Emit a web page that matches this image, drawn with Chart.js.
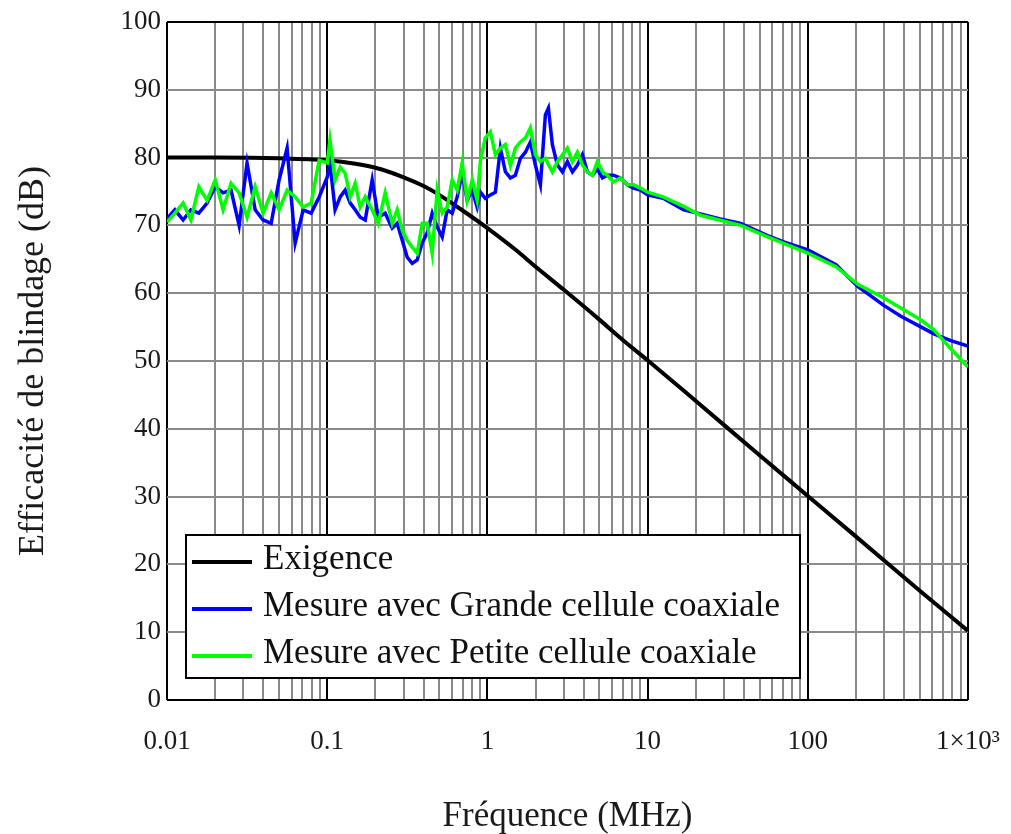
<!DOCTYPE html>
<html><head><meta charset="utf-8">
<script src="https://cdn.jsdelivr.net/npm/chart.js@4.4.1/dist/chart.umd.min.js"></script>
<style>html,body{margin:0;padding:0;background:#fff;}#wrap{position:relative;width:1011px;height:834px;}</style>
</head><body><div id="wrap"><canvas id="c" width="1011" height="834"></canvas></div>
<script>
// ---- data ----
const seriesNames = ['Exigence', 'Mesure avec Grande cellule coaxiale', 'Mesure avec Petite cellule coaxiale'];
const seriesColors = ['#000000', '#0000ff', '#00ff00'];

const exigenceFreq = [0.01,0.02,0.05,0.1,0.15,0.2,0.3,0.4,0.5,0.7,1,1.5,2,3,5,7,10,20,50,100,200,500,1000];
const exigenceDb   = [80,80,79.9,79.6,79.1,78.5,77.1,75.8,74.5,72.2,69.6,66.4,63.9,60.5,56.1,53.1,50.1,44.1,36.1,30.1,24.1,16.1,10.2];

const measFreq = [0.0100,0.0112,0.0126,0.0141,0.0158,0.0178,0.0200,0.0224,0.0251,0.0282,0.0316,0.0355,0.0398,0.0447,0.0501,0.0562,0.0631,0.0708,0.0794,0.0891,0.1000,0.1041,
  0.112,0.1206,0.1295,0.1392,0.1495,0.1607,0.1727,0.1909,0.2082,0.2301,0.2545,0.2735,0.2939,0.3158,0.3393,0.3646,0.3917,0.4209,0.4523,0.486,0.5223,0.5611,0.6029,0.648,0.696,0.748,0.804,0.863,
  0.905,0.97,1.044,1.122,1.205,1.295,1.392,1.495,1.607,1.727,1.855,1.993,2.142,2.301,2.403,2.545,2.735,2.939,3.158,3.393,3.646,3.917,4.209,4.523,4.86,5.223,5.611,6.116,6.76,7.48,8.15,9.02,10,
  12.5,16.8,21.4,28,38.1,56.1,70,100,150,205,298,381,511,612,781,1000];

const grandeDb = [71.0,72.3,70.8,72.3,71.8,73.3,75.7,74.8,75.2,70.0,79.2,72.3,70.8,70.3,76.7,81.4,67.4,72.3,71.8,74.2,77.1,79.2,
  72.3,74.2,75.2,73.3,72.3,71.2,70.8,76.7,71.2,71.8,69.6,70.3,67.8,65.3,64.4,64.9,67.4,68.9,71.8,69.8,68.3,72.3,71.8,74.2,77.7,73.7,75.2,72.7,
  74.9,74.0,74.5,74.9,81.4,77.9,77.0,77.4,79.9,80.8,82.3,78.9,76.0,86.3,87.3,81.9,78.9,77.9,79.4,77.9,78.9,80.4,77.9,77.4,78.3,77.0,77.4,77.4,77.0,76.0,75.5,75.2,74.5,
  74.0,72.3,71.7,71.0,70.3,68.5,67.6,66.4,64.2,61.0,58.2,56.6,55.0,54.0,53.0,52.2];

const petiteDb = [70.5,71.8,73.3,70.8,75.7,73.7,76.7,72.3,76.2,74.8,71.2,75.7,71.8,74.8,72.3,75.2,74.2,72.7,73.3,79.6,79.2,82.6,
  76.7,78.6,77.7,74.2,76.2,72.7,74.2,72.3,70.3,74.8,70.3,72.3,69.3,67.8,66.8,65.9,70.3,70.3,65.9,75.2,71.8,72.7,76.7,75.2,79.2,73.7,76.7,73.7,
  79.6,82.9,83.8,80.4,81.4,81.9,78.8,81.4,82.3,82.9,84.4,80.4,79.4,79.9,79.0,77.9,79.4,80.4,81.4,79.4,80.8,78.9,77.9,77.4,79.4,77.9,77.4,76.4,77.0,76.0,76.0,75.5,74.9,
  74.2,72.8,71.5,70.8,70.0,68.3,67.4,65.9,63.9,61.3,59.3,57.8,56.0,54.6,51.8,49.1];

const xDecades = [0.01, 0.1, 1, 10, 100, 1000];
const xTickLabels = ['0.01', '0.1', '1', '10', '100', '1\u00d710\u00b3'];
const yTickValues = [0,10,20,30,40,50,60,70,80,90,100];
const xTitle = 'Fréquence (MHz)';
const yTitle = 'Efficacité de blindage (dB)';

// ---- helpers ----
const pts = (xs, ys) => xs.map((x, i) => ({x: x, y: ys[i]}));
const isDecade = v => Math.abs(Math.log10(v) - Math.round(Math.log10(v))) < 1e-6;
const SERIF = "'Liberation Serif','Times New Roman',serif";

const legendPlugin = {
  id: 'boxLegend',
  afterDatasetsDraw(chart) {
    const ctx = chart.ctx, a = chart.chartArea;
    const L = a.left + 19, T = a.top + 513, W = 614, H = 143;
    ctx.save();
    ctx.fillStyle = '#fff';
    ctx.fillRect(L, T, W, H);
    ctx.strokeStyle = '#000'; ctx.lineWidth = 2;
    ctx.strokeRect(L, T, W, H);
    const rows = [T + 25, T + 72, T + 119];
    ctx.font = '35px ' + SERIF;
    ctx.textBaseline = 'middle';
    ctx.fillStyle = '#111';
    seriesNames.forEach((n, i) => {
      ctx.strokeStyle = seriesColors[i]; ctx.lineWidth = 4;
      ctx.beginPath(); ctx.moveTo(L + 6, rows[i] + 2); ctx.lineTo(L + 66, rows[i] + 2); ctx.stroke();
      ctx.fillText(n, L + 77, rows[i]);
    });
    ctx.restore();
  }
};

new Chart(document.getElementById('c'), {
  type: 'scatter',
  data: {
    datasets: [
      {label: seriesNames[2], data: pts(measFreq, petiteDb), borderColor: seriesColors[2], borderWidth: 3.5, showLine: true, pointRadius: 0, order: 1},
      {label: seriesNames[1], data: pts(measFreq, grandeDb), borderColor: seriesColors[1], borderWidth: 3.5, showLine: true, pointRadius: 0, order: 2},
      {label: seriesNames[0], data: pts(exigenceFreq, exigenceDb), borderColor: seriesColors[0], borderWidth: 4, showLine: true, pointRadius: 0, cubicInterpolationMode: 'monotone', order: 3}
    ]
  },
  options: {
    responsive: false,
    animation: false,
    layout: {padding: {left: 0, right: 43, top: 22, bottom: 0}},
    plugins: {legend: {display: false}, tooltip: {enabled: false}},
    scales: {
      x: {
        type: 'logarithmic', min: 0.01, max: 1000,
        afterBuildTicks: s => {
          const t = [];
          xDecades.slice(0, -1).forEach(d => { for (let k = 1; k <= 9; k++) t.push({value: +(d * k).toPrecision(6)}); });
          t.push({value: 1000});
          s.ticks = t;
        },
        afterFit: s => { s.height = 134; s.paddingLeft = 0; s.paddingRight = 0; },
        grid: {
          drawTicks: false,
          color: c => isDecade(c.tick.value) ? '#000' : '#8a8a8a',
          lineWidth: 2
        },
        border: {display: false},
        ticks: {
          autoSkip: false, maxRotation: 0, minRotation: 0, padding: 26,
          color: '#1a1a1a', font: {family: SERIF, size: 27},
          callback: v => { const i = xDecades.findIndex(d => Math.abs(Math.log10(d) - Math.log10(v)) < 1e-6); return i >= 0 ? xTickLabels[i] : ''; }
        },
        title: {display: true, text: xTitle, color: '#1a1a1a', font: {family: SERIF, size: 35}, padding: {top: 0, bottom: -4}}
      },
      y: {
        min: 0, max: 100,
        afterBuildTicks: s => { s.ticks = yTickValues.map(v => ({value: v})); },
        afterFit: s => { s.width = 167; s.paddingTop = 0; s.paddingBottom = 0; },
        grid: {
          drawTicks: false,
          color: c => (c.tick.value === 0 || c.tick.value === 100) ? '#000' : '#8a8a8a',
          lineWidth: 2
        },
        border: {display: false},
        ticks: {padding: 6, color: '#1a1a1a', font: {family: SERIF, size: 27}},
        title: {display: true, text: yTitle, color: '#1a1a1a', font: {family: SERIF, size: 36}, padding: {top: 12, bottom: 0}}
      }
    }
  },
  plugins: [legendPlugin]
});
</script></body></html>
